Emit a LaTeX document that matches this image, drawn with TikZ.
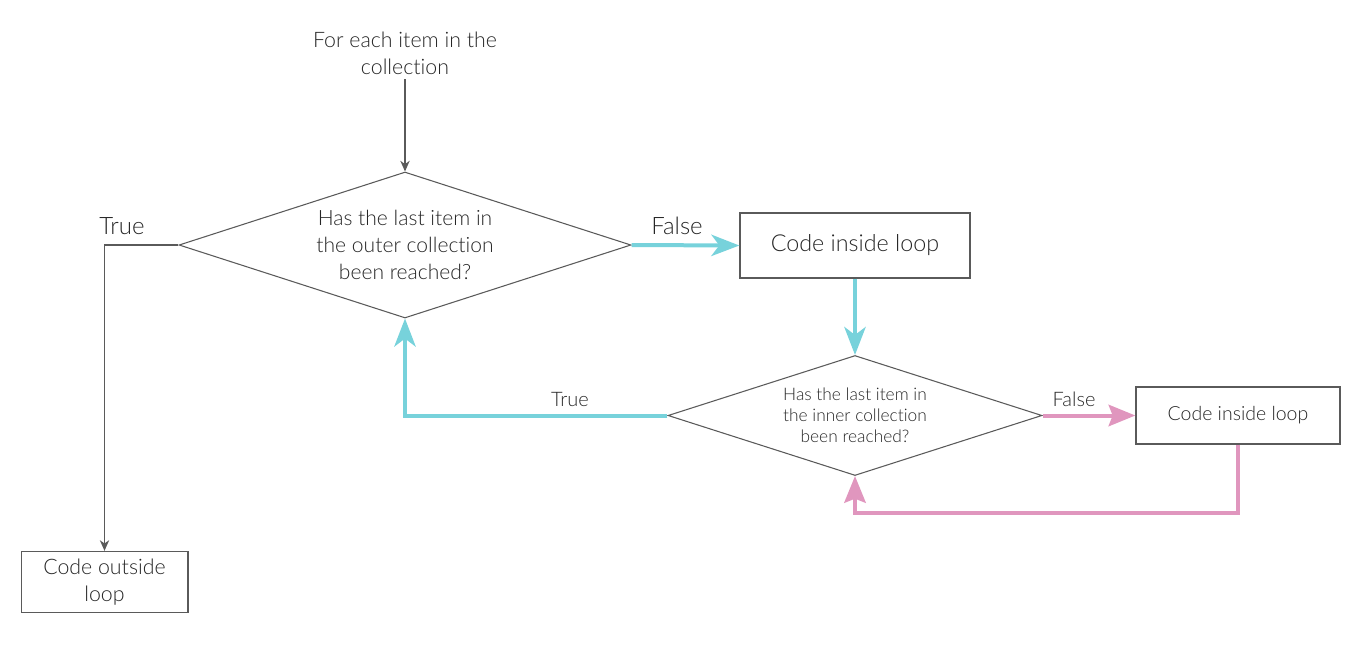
\documentclass[tikz,border=0pt]{standalone}
\usepackage{fontspec}
\setmainfont{Lato Light}[Ligatures = NoCommon]
\usetikzlibrary{shapes.geometric,arrows.meta}
\definecolor{loopcyan}{HTML}{77D2DB}
\definecolor{looppink}{HTML}{E096BE}
\definecolor{linegray}{HTML}{5A5A5A}
\tikzset{
    box/.style = {rectangle, draw = linegray, line width = 1pt, inner sep = 0pt, align = center},
    decision/.style = {diamond, draw = linegray, line width = 0.8pt, inner sep = 0pt, align = center},
    grayflow/.style = {draw = linegray, line width = 1pt, -{Stealth[length = 8pt, width = 7pt, inset = 2.5pt]}},
    cyanflow/.style = {draw = loopcyan, line width = 3pt, -{Stealth[length = 21pt, width = 16pt, inset = 6pt]}},
    pinkflow/.style = {draw = looppink, line width = 3pt, -{Stealth[length = 20pt, width = 16pt, inset = 3pt]}},
}
\begin{document}
\begin{tikzpicture}[x = 0.75pt, y = -0.75pt, text = black!85]
    \useasboundingbox (0,0) rectangle (1356,658);
    % start text and the outer question
    \draw(405, 53) node [align = center, font = \fontsize{16}{20.25}\selectfont](start){For each item in the\\collection};
    \draw(405, 245) node [decision, aspect = 3.1, minimum width = 339pt, minimum height = 109.5pt, font = \fontsize{15.8}{20.25}\selectfont](outer){Has the last item in\\the outer collection\\been reached?};
    \draw(855, 245.5) node [box, minimum width = 172.5pt, minimum height = 48.75pt, font = \fontsize{17.5}{20}\selectfont](body1){Code inside loop};
    \draw(104.5, 582) node [box, minimum width = 125pt, minimum height = 45.75pt, font = \fontsize{16}{20.25}\selectfont](after){Code outside\\loop};
    % inner question
    \draw(855, 415.5) node [decision, aspect = 3.12, minimum width = 280.5pt, minimum height = 90pt, font = \fontsize{13}{15.75}\selectfont](inner){Has the last item in\\the inner collection\\been reached?};
    \draw(1238, 415.5) node [box, minimum width = 153pt, minimum height = 42.75pt, font = \fontsize{14.6}{18}\selectfont](body2){Code inside loop};
    % branch labels
    \draw(122, 226) node [font = \fontsize{18}{20}\selectfont](outertrue){True};
    \draw(677, 226) node [font = \fontsize{18}{20}\selectfont](outerfalse){False};
    \draw(570, 399) node [font = \fontsize{15}{16}\selectfont](innertrue){True};
    \draw(1074, 399) node [font = \fontsize{15}{16}\selectfont](innerfalse){False};

    \draw[grayflow] (start) -- (outer.north);
    \draw[grayflow] (outer.west) -| (after.north);
    \draw[cyanflow] (outer.east) -- (body1.west);
    \draw[cyanflow] (body1.south) -- (inner.north);
    \draw[cyanflow] (inner.west) -| (outer.south);
    \draw[pinkflow] (inner.east) -- (body2.west);
    \draw[pinkflow] (body2.south) -- ++(0, 68.5) -| (inner.south);
\end{tikzpicture}
\end{document}
